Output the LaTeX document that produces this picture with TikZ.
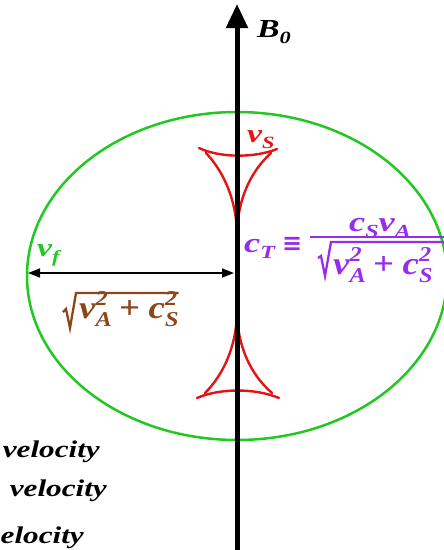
\documentclass[tikz,border=0pt]{standalone}
\usepackage{fontspec}
\setmainfont{Liberation Serif}
\newfontfamily\wide[FakeStretch=1.3]{Liberation Serif}
\newfontfamily\tall[FakeStretch=1.15]{Liberation Serif}
\newfontfamily\symf{DejaVu Sans}
\usetikzlibrary{arrows.meta}
\definecolor{fastgreen}{RGB}{34,200,34}
\definecolor{slowred}{RGB}{226,20,20}
\definecolor{brownlab}{RGB}{140,70,25}
\definecolor{purplelab}{RGB}{150,45,235}
\makeatletter
\newcommand{\smallbi}{\fontsize{\the\dimexpr\f@size pt*66/100\relax}{1pt}\selectfont\bfseries\itshape}
\makeatother
\newcommand{\lo}[1]{\raisebox{-0.24em}{\smallbi #1}}
\newcommand{\supsub}[2]{\rlap{\raisebox{0.40em}{\smallbi #1}}\raisebox{-0.26em}{\smallbi #2}}
\newcommand{\plusgap}{\hspace{0.22em}+\hspace{0.28em}}
\tikzset{
  lab/.style={inner sep=0pt, font=\wide\fontsize{26}{30}\selectfont\bfseries\itshape},
  big/.style={inner sep=0pt, font=\wide\fontsize{28}{32}\selectfont\bfseries\itshape},
  rad/.style={inner sep=0pt, font=\tall\fontsize{32}{36}\selectfont\bfseries\itshape},
  vel/.style={inner sep=0pt, anchor=base east, font=\wide\fontsize{24}{28}\selectfont\bfseries\itshape},
  cusp/.style={slowred, line width=2.4pt, line cap=round, line join=round},
  radline/.style={line width=2.3pt, line join=miter},
}
\begin{document}
\begin{tikzpicture}[x=1pt,y=-1pt]
\clip (0,0) rectangle (444,550);
% fast mode ellipse
\draw[fastgreen, line width=2.5pt] (237,276) ellipse [x radius=210pt, y radius=164pt];
% slow mode cusps (upper)
\draw[cusp] (199,148) .. controls (220,158) and (255,158) .. (277,149);
\draw[cusp] (206,153) .. controls (224,172) and (236,200) .. (237,232);
\draw[cusp] (271,153) .. controls (250,172) and (238,200) .. (237,232);
% lower
\draw[cusp] (197,398) .. controls (220,388) and (255,388) .. (279,398);
\draw[cusp] (205,393) .. controls (224,374) and (236,346) .. (237,314);
\draw[cusp] (272,393) .. controls (250,374) and (238,346) .. (237,314);
% B0 axis
\coordinate (axbot) at (237,552);
\coordinate (axtop) at (237,4);
\draw[line width=5pt, -{Triangle[width=21pt,length=24pt]}] (axbot) -- (axtop);
\node[lab, anchor=base west] (b0) at (257,37) {B\lo{0}};
% horizontal arrow
\coordinate (hl) at (28,273);
\coordinate (hr) at (234,273);
\draw[line width=1.6pt, {Triangle[width=9pt,length=12pt]}-{Triangle[width=9pt,length=12pt]}] (hl) -- (hr);
% labels
\node[lab, fastgreen, anchor=base west] (vf) at (37,256) {v\lo{f}};
\node[lab, slowred, anchor=base west] (vs) at (247,142) {v\lo{S}};
% sqrt(vA^2+cS^2), brown
\node[rad, brownlab, anchor=base west] (vfast) at (79,318) {v\supsub{2}{A}\plusgap c\supsub{2}{S}};
\draw[brownlab, radline] (63,312) -- (66,309) -- (70,328) -- (76,293) -- (vfast.east |- 0,293);
% c_T formula
\node[big, purplelab, anchor=base west] (ct) at (244,252) {c\lo{T}};
\node[purplelab, inner sep=0pt, anchor=base west, font=\symf\bfseries\fontsize{24}{26}\selectfont] (eq) at (282,251) {≡};
\node[big, purplelab, anchor=base] (ctnum) at (380,231) {c\lo{S}v\lo{A}};
\node[rad, purplelab, anchor=base west] (ctden) at (333,274) {v\supsub{2}{A}\plusgap c\supsub{2}{S}};
\coordinate (barl) at (310,237);
\coordinate (barr) at (446,237);
\draw[purplelab, line width=2.8pt] (barl) -- (barr);
\draw[purplelab, radline] (318,258) -- (321,256) -- (325,276) -- (331,242) -- (446,242);
% velocity texts (cut at left edge)
\node[vel] (t1) at (100,457) {velocity};
\node[vel] (t2) at (107,496) {velocity};
\node[vel] (t3) at (84,543) {elocity};
\end{tikzpicture}
\end{document}
